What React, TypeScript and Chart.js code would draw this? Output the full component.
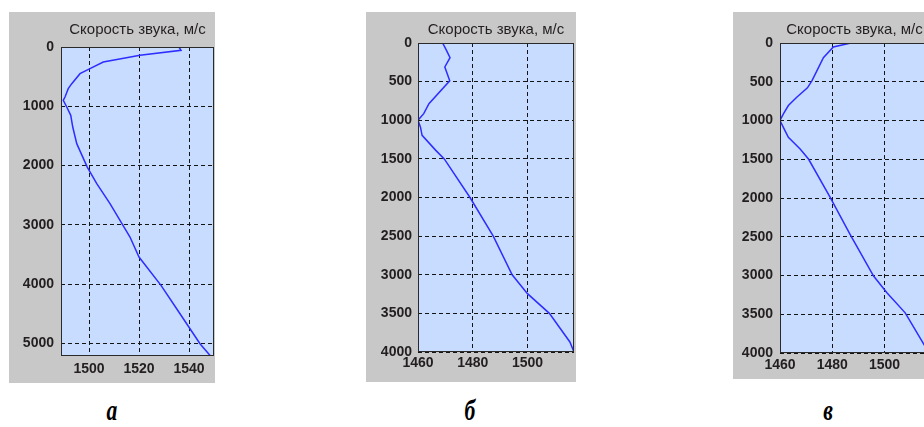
import React, { useEffect, useRef } from 'react';
import { Chart, registerables } from 'chart.js';

Chart.register(...registerables);

const TITLE = 'Скорость звука, м/с';

// Panel а
const depthA = [0, 56, 140, 253, 365, 450, 618, 703, 843, 899, 1012, 1152, 1349, 1630, 2024, 2305, 2642, 2923, 3204, 3541, 4019, 4497, 5003, 5210];
const speedA = [1536, 1536.8, 1520.4, 1505.7, 1500.4, 1496.4, 1493.1, 1491.7, 1490.4, 1489.7, 1491.1, 1492.7, 1493.5, 1495.1, 1499.3, 1503.1, 1508.4, 1512.4, 1516.4, 1520, 1528.8, 1536.4, 1544.4, 1548.6];
const xTicksA = [1500, 1520, 1540];
const yTicksA = [0, 1000, 2000, 3000, 4000, 5000];

// Panel б
const depthB = [0, 95, 190, 310, 490, 785, 915, 1000, 1090, 1195, 1390, 1500, 2000, 2500, 3000, 3245, 3500, 3870, 4000];
const speedB = [1469, 1470.4, 1471.7, 1469.8, 1471.6, 1464, 1462.1, 1460, 1460.9, 1461.5, 1466.5, 1469.6, 1479, 1487.5, 1494.4, 1500, 1508, 1515.5, 1517];
const xTicksB = [1460, 1480, 1500];
const yTicksB = [0, 500, 1000, 1500, 2000, 2500, 3000, 3500, 4000];

// Panel в
const depthC = [0, 52, 190, 483, 578, 700, 807, 915, 1000, 1130, 1217, 1368, 1497, 1993, 2468, 3007, 3223, 3482, 4000];
const speedC = [1487.1, 1480.4, 1476.6, 1472.3, 1470.5, 1466.4, 1463.2, 1461.3, 1460, 1461.9, 1463.2, 1467.7, 1470.9, 1479.2, 1486.8, 1495.8, 1500.9, 1507.9, 1517];
const xTicksC = [1460, 1480, 1500];
const yTicksC = [0, 500, 1000, 1500, 2000, 2500, 3000, 3500, 4000];

const panelLabels = ['а', 'б', 'в'];

type Rect = { l: number; t: number; r: number; b: number };
type PanelProps = {
  depth: number[];
  speed: number[];
  xTicks: number[];
  yTicks: number[];
  xMin: number;
  xMax: number;
  yMax: number;
  box: Rect;
  plot: Rect;
  xPad: number;
  yPad: number;
};

const TEXT = '#231f20';
const TICK_FONT = { family: '"Liberation Sans", Arial, sans-serif', size: 14, weight: 'bold' as const };

function Panel(p: PanelProps) {
  const ref = useRef<HTMLCanvasElement>(null);
  const w = p.box.r - p.box.l;
  const h = p.box.b - p.box.t;
  useEffect(() => {
    const axesPlugin = {
      id: 'axesBox',
      beforeDraw(chart: any) {
        const { ctx, chartArea } = chart;
        ctx.save();
        ctx.fillStyle = '#c8dcff';
        ctx.fillRect(chartArea.left, chartArea.top, chartArea.right - chartArea.left, chartArea.bottom - chartArea.top);
        ctx.restore();
      },
      afterDatasetsDraw(chart: any) {
        const { ctx, chartArea } = chart;
        ctx.save();
        ctx.strokeStyle = '#2a2a2a';
        ctx.lineWidth = 1;
        ctx.strokeRect(
          Math.round(chartArea.left) + 0.5,
          Math.round(chartArea.top) + 0.5,
          Math.round(chartArea.right - chartArea.left) - 1,
          Math.round(chartArea.bottom - chartArea.top) - 1
        );
        ctx.fillStyle = TEXT;
        ctx.font = '15px "Liberation Sans", Arial, sans-serif';
        ctx.textAlign = 'center';
        ctx.textBaseline = 'middle';
        ctx.fillText(TITLE, (chartArea.left + chartArea.right) / 2, 29.5 - p.box.t);
        ctx.restore();
      },
    };
    const chart = new Chart(ref.current!, {
      type: 'scatter',
      data: {
        datasets: [
          {
            data: p.depth.map((d, i) => ({ x: p.speed[i], y: d })),
            showLine: true,
            borderColor: 'rgb(45,45,255)',
            borderWidth: 1.5,
            pointRadius: 0,
            tension: 0,
            fill: false,
          },
        ],
      },
      options: {
        animation: false,
        responsive: false,
        devicePixelRatio: 1,
        layout: {
          padding: { top: p.plot.t - p.box.t, right: p.box.r - p.plot.r, left: 0, bottom: 0 },
        },
        plugins: { legend: { display: false }, title: { display: false }, tooltip: { enabled: false } },
        scales: {
          x: {
            type: 'linear',
            position: 'bottom',
            min: p.xMin,
            max: p.xMax,
            afterBuildTicks: (s: any) => {
              s.ticks = p.xTicks.map((v) => ({ value: v }));
            },
            afterFit: (s: any) => {
              s.height = p.box.b - p.plot.b;
            },
            grid: { color: '#141414', lineWidth: 1, drawTicks: false },
            border: { display: false, dash: [4, 3] },
            ticks: { padding: p.xPad, font: TICK_FONT, color: TEXT, autoSkip: false, maxRotation: 0, callback: (v: any) => String(v) },
          },
          y: {
            type: 'linear',
            reverse: true,
            min: 0,
            max: p.yMax,
            afterBuildTicks: (s: any) => {
              s.ticks = p.yTicks.map((v) => ({ value: v }));
            },
            afterFit: (s: any) => {
              s.width = p.plot.l - p.box.l;
            },
            grid: { color: '#141414', lineWidth: 1, drawTicks: false },
            border: { display: false, dash: [4, 3] },
            ticks: { padding: p.yPad, font: TICK_FONT, color: TEXT, autoSkip: false, callback: (v: any) => String(v) },
          },
        },
      },
      plugins: [axesPlugin],
    } as any);
    return () => chart.destroy();
  }, []);
  return (
    <div
      style={{
        position: 'absolute',
        left: p.box.l,
        top: p.box.t,
        width: w,
        height: h,
        background: '#c8c8c8',
      }}
    >
      <canvas ref={ref} width={w} height={h} style={{ display: 'block', width: w, height: h }} />
    </div>
  );
}

function Label({ text, x }: { text: string; x: number }) {
  return (
    <div
      style={{
        position: 'absolute',
        left: x - 30,
        top: 393,
        width: 60,
        textAlign: 'center',
        fontFamily: '"Liberation Serif", "Times New Roman", serif',
        fontWeight: 'bold',
        fontStyle: 'italic',
        fontSize: 30,
        lineHeight: '34px',
        color: '#000',
        transform: 'scaleX(0.72)',
      }}
    >
      {text}
    </div>
  );
}

export default function App() {
  return (
    <div
      style={{
        position: 'fixed',
        left: 0,
        top: 0,
        width: 924,
        height: 427,
        overflow: 'hidden',
        background: '#fff',
      }}
    >
      <Panel
        depth={depthA}
        speed={speedA}
        xTicks={xTicksA}
        yTicks={yTicksA}
        xMin={1488.8}
        xMax={1550}
        yMax={5210}
        box={{ l: 9, t: 12, r: 215, b: 383 }}
        plot={{ l: 61, t: 47, r: 214, b: 356 }}
        xPad={5}
        yPad={7}
      />
      <Panel
        depth={depthB}
        speed={speedB}
        xTicks={xTicksB}
        yTicks={yTicksB}
        xMin={1460}
        xMax={1517}
        yMax={4000}
        box={{ l: 366, t: 12, r: 576, b: 382 }}
        plot={{ l: 418, t: 43, r: 574, b: 352 }}
        xPad={3}
        yPad={6}
      />
      <Panel
        depth={depthC}
        speed={speedC}
        xTicks={xTicksC}
        yTicks={yTicksC}
        xMin={1460}
        xMax={1517}
        yMax={4000}
        box={{ l: 733, t: 12, r: 935, b: 379 }}
        plot={{ l: 780, t: 43, r: 929, b: 353 }}
        xPad={4}
        yPad={7}
      />
      <Label text={panelLabels[0]} x={112} />
      <Label text={panelLabels[1]} x={470} />
      <Label text={panelLabels[2]} x={828} />
    </div>
  );
}
